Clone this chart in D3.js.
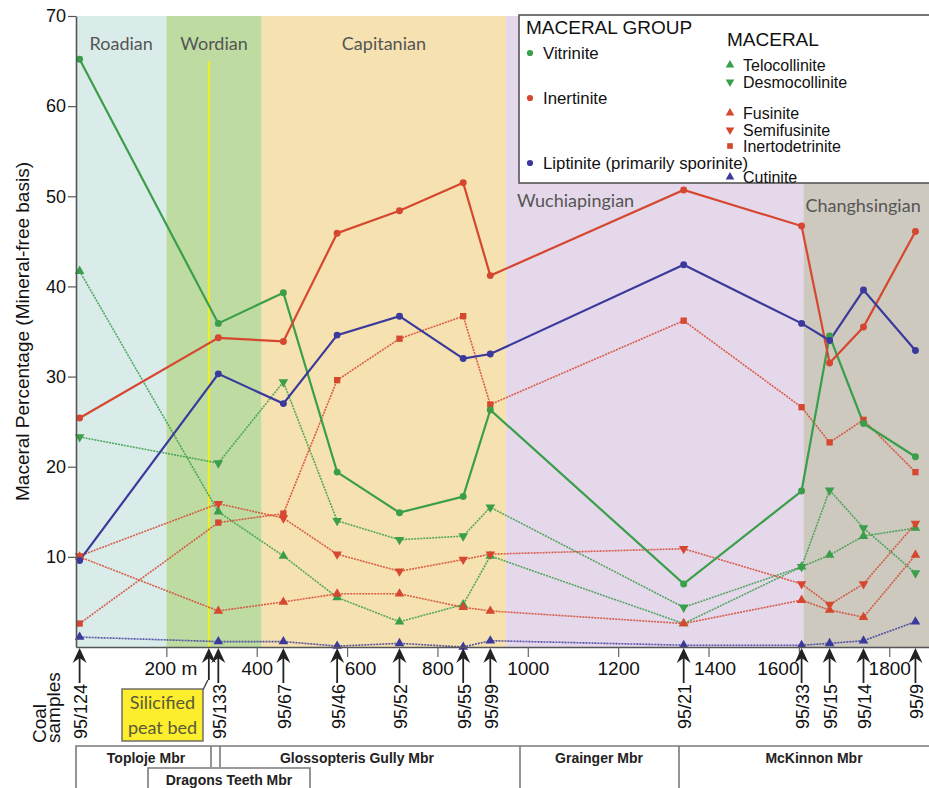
<!DOCTYPE html>
<html>
<head>
<meta charset="utf-8">
<script src="https://cdn.jsdelivr.net/npm/d3@7"></script>
<style>
  body { margin: 0; background: #fff; }
  svg { font-family: "Liberation Sans", Arial, sans-serif; }
</style>
</head>
<body>
<svg width="929" height="788"></svg>
<script>
"use strict";

// coal samples and their stratigraphic height (m)
const samples = ["95/124", "95/133", "95/67", "95/46", "95/52", "95/55", "95/99", "95/21", "95/33", "95/15", "95/14", "95/9"];
const heights = [8, 315, 459, 578, 716, 857, 917, 1345, 1606, 1668, 1743, 1858];
const peatBed = 294;

// maceral group values (%)
const vitrinite  = [65.2, 35.9, 39.3, 19.4, 14.9, 16.7, 26.3, 7.0, 17.3, 34.5, 24.8, 21.1];
const inertinite = [25.4, 34.3, 33.9, 45.9, 48.4, 51.5, 41.2, 50.7, 46.7, 31.5, 35.5, 46.1];
const liptinite  = [9.6, 30.3, 27.0, 34.6, 36.7, 32.0, 32.5, 42.4, 35.9, 34.0, 39.6, 32.9];

// maceral values (%)
const telocollinite   = [41.7, 15.0, 10.1, 5.5, 2.8, 4.7, 10.1, 2.6, 8.9, 10.2, 12.3, 13.2];
const desmocollinite  = [23.3, 20.4, 29.4, 14.0, 11.9, 12.3, 15.5, 4.4, 8.9, 17.4, 13.2, 8.2];
const fusinite        = [10.0, 4.0, 5.0, 5.9, 5.9, 4.4, 4.0, 2.6, 5.2, 4.1, 3.3, 10.2];
const semifusinite    = [10.1, 15.9, 14.3, 10.3, 8.4, 9.7, 10.3, 10.9, 7.0, 4.7, 7.0, 13.7];
const inertodetrinite = [2.6, 13.8, 14.8, 29.6, 34.2, 36.7, 26.9, 36.2, 26.6, 22.7, 25.2, 19.4];
const cutinite        = [1.1, 0.6, 0.6, 0.1, 0.4, 0.0, 0.7, 0.2, 0.2, 0.4, 0.7, 2.8];

// stages (m)
const stageNames = ["Roadian", "Wordian", "Capitanian", "Wuchiapingian", "Changhsingian"];
const stageStart = [0, 200, 411, 952, 1610];
const stageEnd   = [200, 411, 952, 1610, 1890];

const memberNames = ["Toploje Mbr", "Glossopteris Gully Mbr", "Grainger Mbr", "McKinnon Mbr"];

const xTicks = [200, 400, 600, 800, 1000, 1200, 1400, 1600, 1800];
const yTicks = [10, 20, 30, 40, 50, 60, 70];

const green = "#3a9e4a", red = "#d6472f", blue = "#3b3a9c";
const stageColors = ["#d9ecea", "#bedba2", "#f6e1b1", "#e5d8ea", "#cdc9bf"];

const chart = d3.select("svg");

const plot = {left: 76, right: 929, top: 16, bottom: 647};

let scaleX = d3.scaleLinear().domain([0, 1888]).range([plot.left, plot.right]);
let scaleY = d3.scaleLinear().domain([0, 70]).range([plot.bottom, plot.top]);

// stage backgrounds
chart.append("g").selectAll("rect")
.data(stageNames)
.enter()
.append("rect")
.attr("x", (d, i) => scaleX(stageStart[i]))
.attr("width", (d, i) => scaleX(stageEnd[i]) - scaleX(stageStart[i]))
.attr("y", plot.top)
.attr("height", plot.bottom - plot.top)
.attr("fill", (d, i) => stageColors[i]);

// stage labels
chart.append("g")
.attr("font-family", "Lato, 'Open Sans', sans-serif")
.attr("font-size", 18)
.attr("fill", "#555")
.selectAll("text")
.data(stageNames)
.enter()
.append("text")
.text(d => d)
.each(function(d, i) {
    let t = d3.select(this);
    if (i < 3) {
        t.attr("x", (scaleX(stageStart[i]) + scaleX(stageEnd[i])) / 2)
         .attr("y", 50)
         .attr("text-anchor", "middle");
    } else {
        t.attr("x", scaleX(stageStart[i]) + (i == 3 ? 11 : 2))
         .attr("y", i == 3 ? 207 : 212);
    }
});

// silicified peat bed line
chart.append("line")
.attr("x1", scaleX(peatBed)).attr("x2", scaleX(peatBed))
.attr("y1", 61).attr("y2", plot.bottom)
.attr("stroke", "#f2ef1e")
.attr("stroke-width", 2);

// series
const series = [
    {name: "Telocollinite", values: telocollinite, color: green, symbol: "up", dashed: true},
    {name: "Desmocollinite", values: desmocollinite, color: green, symbol: "down", dashed: true},
    {name: "Fusinite", values: fusinite, color: red, symbol: "up", dashed: true},
    {name: "Semifusinite", values: semifusinite, color: red, symbol: "down", dashed: true},
    {name: "Inertodetrinite", values: inertodetrinite, color: red, symbol: "square", dashed: true},
    {name: "Cutinite", values: cutinite, color: blue, symbol: "up", dashed: true},
    {name: "Vitrinite", values: vitrinite, color: green, symbol: "circle", dashed: false},
    {name: "Inertinite", values: inertinite, color: red, symbol: "circle", dashed: false},
    {name: "Liptinite", values: liptinite, color: blue, symbol: "circle", dashed: false}
];

function symbolPath(kind, s) {
    if (kind == "circle") return d3.symbol(d3.symbolCircle, 38 * s)();
    if (kind == "square") return d3.symbol(d3.symbolSquare, 40 * s)();
    return d3.symbol(d3.symbolTriangle, 40 * s)();
}

let line = d3.line()
.x((d, i) => scaleX(heights[i]))
.y(d => scaleY(d));

chart.append("g")
.attr("class", "lines")
.selectAll("path")
.data(series)
.enter()
.append("path")
.attr("d", d => line(d.values))
.attr("fill", "none")
.attr("stroke", d => d.color)
.attr("stroke-width", d => d.dashed ? 1.6 : 2.2)
.attr("stroke-dasharray", d => d.dashed ? "2,1" : null)
.attr("stroke-opacity", d => d.dashed ? 0.85 : 1);

chart.append("g")
.attr("class", "markers")
.selectAll("g")
.data(series)
.enter()
.append("g")
.each(function(s) {
    d3.select(this)
    .selectAll("path")
    .data(s.values)
    .enter()
    .append("path")
    .attr("d", symbolPath(s.symbol, 1))
    .attr("transform", (d, i) => `translate(${scaleX(heights[i])}, ${scaleY(d)})` + (s.symbol == "down" ? " rotate(180)" : ""))
    .attr("fill", s.color);
});

// y axis
chart.append("g")
.attr("class", "y_axis")
.attr("transform", `translate(${plot.left}, 0)`)
.call(d3.axisLeft(scaleY).tickValues(yTicks).tickSize(8).tickSizeOuter(0))
.call(g => g.select(".domain").attr("stroke", "#555").attr("stroke-width", 1.6))
.call(g => g.selectAll(".tick line").attr("stroke", "#555").attr("stroke-width", 1.2))
.call(g => g.selectAll(".tick text").attr("font-size", 18).attr("fill", "#111").attr("font-family", "'Liberation Sans', Arial, sans-serif").attr("dx", 1));

chart.append("text")
.text("Maceral Percentage (Mineral-free basis)")
.attr("transform", `translate(29, ${(plot.top + plot.bottom) / 2}) rotate(-90)`)
.attr("text-anchor", "middle")
.attr("font-size", 19)
.attr("fill", "#111");

// x axis
const xShift = {200: 4, 600: 13, 1400: 6, 1600: -21};
chart.append("g")
.attr("class", "x_axis")
.attr("transform", `translate(0, ${plot.bottom})`)
.call(d3.axisBottom(scaleX).tickValues(xTicks).tickSize(10).tickSizeOuter(0).tickFormat(d => d == 200 ? "200 m" : d))
.call(g => g.select(".domain").attr("stroke", "#555").attr("stroke-width", 1.6))
.call(g => g.selectAll(".tick line").attr("stroke", "#666").attr("stroke-width", 1.2))
.call(g => g.selectAll(".tick text")
    .attr("font-size", 19).attr("fill", "#111").attr("font-family", "'Liberation Sans', Arial, sans-serif")
    .attr("y", 15)
    .attr("dx", d => xShift[d] || 0));

// sample arrows
function arrow(g, x, len) {
    g.append("line")
    .attr("x1", x).attr("x2", x)
    .attr("y1", plot.bottom + 8).attr("y2", plot.bottom + len)
    .attr("stroke", "#222").attr("stroke-width", 1.8);
    g.append("path")
    .attr("d", `M${x},${plot.bottom + 1} L${x - 7},${plot.bottom + 16} L${x},${plot.bottom + 11} L${x + 7},${plot.bottom + 16} Z`)
    .attr("fill", "#222");
}

let arrows = chart.append("g").attr("class", "arrows");
heights.forEach(h => arrow(arrows, scaleX(h), 36));
arrow(arrows, scaleX(peatBed), 33);

chart.append("g")
.attr("class", "sample_labels")
.selectAll("text")
.data(samples)
.enter()
.append("text")
.text(d => d)
.attr("transform", (d, i) => `translate(${scaleX(heights[i]) + 1}, 684) rotate(-90)`)
.attr("text-anchor", "end")
.attr("dy", "0.36em")
.attr("font-size", 18)
.attr("fill", "#111");

chart.append("text")
.attr("transform", "translate(46, 743) rotate(-90)")
.attr("font-size", 19)
.attr("fill", "#111")
.call(t => t.append("tspan").attr("x", 0).attr("y", 0).text("Coal"))
.call(t => t.append("tspan").attr("x", 0).attr("y", 14).text("samples"));

// silicified peat bed box
chart.append("line")
.attr("x1", scaleX(peatBed) - 1).attr("y1", plot.bottom + 33)
.attr("x2", 203).attr("y2", 690)
.attr("stroke", "#444").attr("stroke-width", 1.4);

let peat = chart.append("g").attr("class", "peat");
peat.append("rect")
.attr("x", 122).attr("y", 689)
.attr("width", 81).attr("height", 52)
.attr("fill", "#fcee2c")
.attr("stroke", "#666").attr("stroke-width", 1.4);
peat.selectAll("text")
.data(["Silicified", "peat bed"])
.enter()
.append("text")
.text(d => d)
.attr("x", 162.5)
.attr("y", (d, i) => 709 + i * 25)
.attr("text-anchor", "middle")
.attr("font-family", "Lato, 'Open Sans', sans-serif")
.attr("font-size", 18)
.attr("fill", "#5a5a3a");

// member boxes
let members = chart.append("g")
.attr("class", "members")
.attr("stroke", "#7a7a7a")
.attr("stroke-width", 1.6)
.attr("fill", "none");

members.append("path")
.attr("d", `M${plot.left},788 V746 H${plot.right}`);
members.append("path").attr("d", "M211,746 V767");
members.append("path").attr("d", "M220,746 V767");
members.append("path").attr("d", "M148,788 V768 H310 V788");
members.append("path").attr("d", "M520,746 V788");
members.append("path").attr("d", "M679,746 V788");

chart.append("g")
.attr("font-size", 14)
.attr("font-weight", "bold")
.attr("fill", "#222")
.attr("text-anchor", "middle")
.selectAll("text")
.data(memberNames)
.enter()
.append("text")
.text(d => d)
.attr("x", (d, i) => [146, 357, 599, 814][i])
.attr("y", 763);

chart.append("text")
.text("Dragons Teeth Mbr")
.attr("x", 229).attr("y", 785)
.attr("text-anchor", "middle")
.attr("font-size", 14)
.attr("font-weight", "bold")
.attr("fill", "#222");

// legend
let legend = chart.append("g").attr("class", "legend");
legend.append("rect")
.attr("x", 519).attr("y", 15)
.attr("width", 420).attr("height", 168)
.attr("fill", "#fff")
.attr("stroke", "#555").attr("stroke-width", 1.6);

legend.append("text").text("MACERAL GROUP")
.attr("x", 526).attr("y", 34).attr("font-size", 19).attr("fill", "#111");
legend.append("text").text("MACERAL")
.attr("x", 727).attr("y", 46).attr("font-size", 19).attr("fill", "#111");

const groupLegend = [
    {label: "Vitrinite", color: green, symbol: "circle", y: 53},
    {label: "Inertinite", color: red, symbol: "circle", y: 98},
    {label: "Liptinite (primarily sporinite)", color: blue, symbol: "circle", y: 163}
];
const maceralLegend = [
    {label: "Telocollinite", color: green, symbol: "up", y: 65},
    {label: "Desmocollinite", color: green, symbol: "down", y: 82},
    {label: "Fusinite", color: red, symbol: "up", y: 113},
    {label: "Semifusinite", color: red, symbol: "down", y: 130},
    {label: "Inertodetrinite", color: red, symbol: "square", y: 146},
    {label: "Cutinite", color: blue, symbol: "up", y: 177}
];

[[groupLegend, 530, 16.8], [maceralLegend, 730, 16]].forEach(([items, x0, fs]) => {
    legend.append("g")
    .selectAll("g")
    .data(items)
    .enter()
    .append("g")
    .attr("transform", d => `translate(${x0}, ${d.y})`)
    .each(function(d) {
        d3.select(this).append("path")
        .attr("d", symbolPath(d.symbol, 0.8))
        .attr("transform", d.symbol == "down" ? "rotate(180)" : null)
        .attr("fill", d.color);
        d3.select(this).append("text")
        .text(d.label)
        .attr("x", 13)
        .attr("dy", "0.35em")
        .attr("font-size", fs)
        .attr("fill", "#111");
    });
});
</script>
</body>
</html>
